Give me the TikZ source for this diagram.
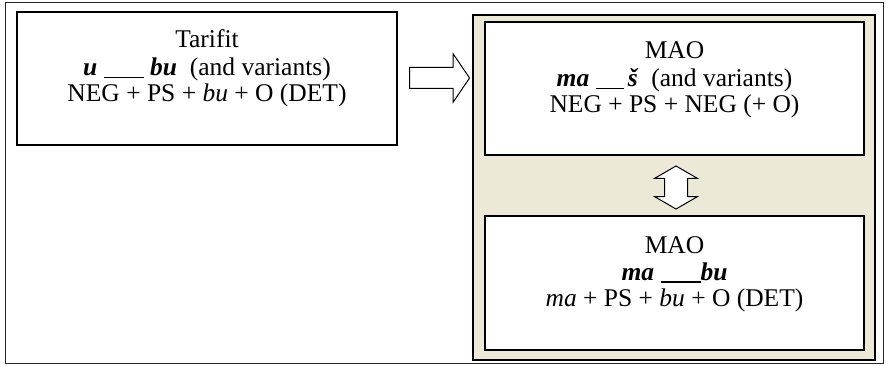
\documentclass[tikz,border=0pt]{standalone}
\usepackage{fontspec}
\setmainfont{Liberation Serif}
\usetikzlibrary{shapes.arrows}
\definecolor{panel}{RGB}{236,233,216}
\newcommand\gapline[1]{\rule[-2.5pt]{#1pt}{1.8pt}}
\newcommand\bi[1]{\textbf{\textit{#1}}}
\begin{document}
\begin{tikzpicture}[x=1pt,y=-1pt,
  frame/.style={draw=black!85, line width=1pt, inner sep=0pt, outer sep=0pt},
  box/.style={draw=black, line width=1.4pt, fill=white, inner sep=0pt, outer sep=0pt},
  panelbox/.style={draw=black, line width=1.7pt, fill=panel, inner sep=0pt, outer sep=0pt},
  txt/.style={anchor=base, inner sep=0pt, font=\fontsize{25.5}{27}\selectfont},
  blockarrow/.style={draw=black, line width=1pt, fill=white, outer sep=0pt}]
\useasboundingbox (0,0) rectangle (886,366);
\node[frame, minimum width=878pt, minimum height=360pt] (outer) at (444,183) {};
% left box
\node[box, minimum width=380pt, minimum height=133pt] (L) at (207,78.5) {};
\node[txt] (L1) at (207,48) {Tarifit};
\node[txt] (L2) at (207,76) {\bi{u}\ \gapline{40}\ \bi{bu}\ \ (and variants)};
\node[txt] (L3) at (207,102) {NEG + PS + \textit{bu} + O (DET)};
% right panel
\node[panelbox, minimum width=402pt, minimum height=345pt] (P) at (674,187.5) {};
\node[box, minimum width=379pt, minimum height=133pt] (T) at (674.5,88.5) {};
\node[txt] (T1) at (674.5,59) {MAO};
\node[txt] (T2) at (674.5,87) {\bi{ma}\ \gapline{28}\,\bi{š}\ \ (and variants)};
\node[txt] (T3) at (674.5,113) {NEG + PS + NEG (+ O)};
\node[box, minimum width=379pt, minimum height=134pt] (B) at (674.5,283) {};
\node[txt] (B1) at (674.5,253) {MAO};
\node[txt] (B2) at (674.5,280) {\bi{ma}\ \gapline{40}\bi{bu}};
\node[txt] (B3) at (674.5,306) {\textit{ma} + PS + \textit{bu} + O (DET)};
% block arrows
\node[blockarrow, shape=single arrow, inner xsep=0pt, inner ysep=10pt,
      minimum height=60pt, single arrow head extend=13.5pt,
      single arrow tip angle=111.5] (RA) at (436,78) {};
\node[blockarrow, shape=double arrow, inner xsep=0pt, inner ysep=11pt,
      minimum height=43pt, double arrow head extend=10pt,
      double arrow tip angle=120, rotate=90] (DA) at (676,187.5) {};
\end{tikzpicture}
\end{document}
